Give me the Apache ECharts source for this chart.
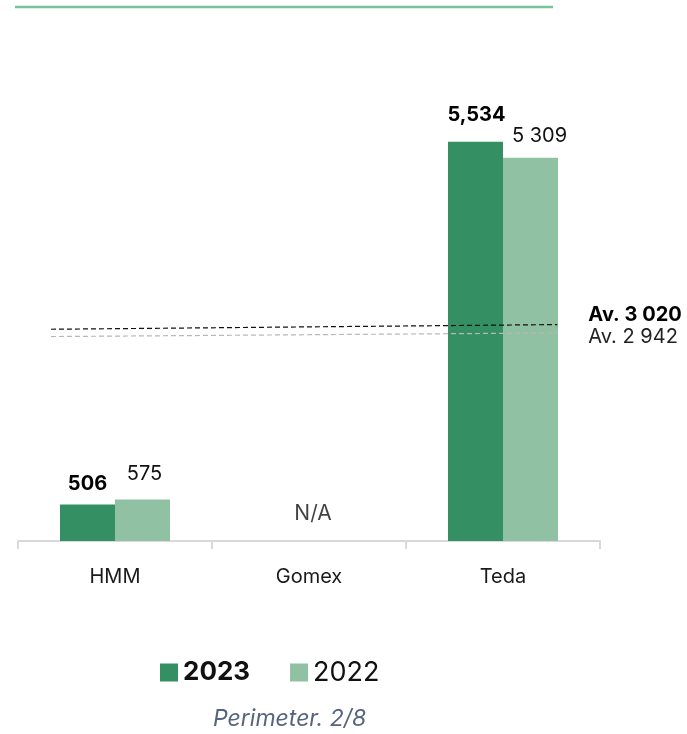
<!DOCTYPE html>
<html>
<head>
<meta charset="utf-8">
<script src="https://cdn.jsdelivr.net/npm/echarts@6/dist/echarts.min.js"></script>
<style>
html,body{margin:0;padding:0;background:#fff;}
#c{width:687px;height:734px;}
</style>
</head>
<body>
<div id="c"></div>
<script>
var categories = ['HMM', 'Gomex', 'Teda'];
var values2023 = [506, null, 5534];
var values2022 = [575, null, 5309];
var labels2023 = ['506', '', '5,534'];
var labels2022 = ['575', '', '5 309'];
var naCategory = 'Gomex';
var naLabel = 'N/A';
var naLevel = 380;
var avg2023 = 3020;
var avg2022 = 2942;
var avg2023Label = 'Av. 3 020';
var avg2022Label = 'Av. 2 942';
var avg2023Line = [[0.17, 2934], [2.78, 2999]];
var avg2022Line = [[0.17, 2833], [2.78, 2883]];
var seriesNames = ['2023', '2022'];
var footnote = 'Perimeter. 2/8';

var FONT = 'Inter, "Noto Sans", sans-serif';
var labelOffsets2023 = [[0, -5], [0, 0], [1, -12]];
var labelOffsets2022 = [[2, -11], [0, 0], [9, -7]];

function buildBar(vals, labels, offsets) {
  return vals.map(function (v, i) {
    return { value: v, label: { offset: offsets[i], formatter: labels[i] } };
  });
}

var chart = echarts.init(document.getElementById('c'));
chart.setOption({
  animation: false,
  backgroundColor: '#fff',
  graphic: [{
    type: 'line',
    shape: { x1: 15, y1: 7, x2: 553, y2: 7 },
    style: { stroke: '#77c49c', lineWidth: 2.5 }
  }],
  title: {
    text: footnote,
    left: 208, top: 703,
    textStyle: { fontFamily: FONT, fontSize: 23, fontStyle: 'italic', fontWeight: 'normal', color: '#56657e' }
  },
  legend: {
    data: seriesNames,
    left: 155, top: 654,
    icon: 'rect', itemWidth: 18, itemHeight: 18, itemGap: 40,
    formatter: function (n) { return n === '2023' ? '{b|' + n + '}' : '{n|' + n + '}'; },
    textStyle: {
      fontFamily: FONT, color: '#111',
      rich: {
        b: { fontFamily: FONT, fontSize: 26, fontWeight: 'bold', color: '#111' },
        n: { fontFamily: FONT, fontSize: 27, fontWeight: 'normal', color: '#111' }
      }
    }
  },
  grid: { left: 18, right: 87, top: 108, bottom: 193 },
  xAxis: [{
    type: 'category',
    data: categories,
    axisLine: { lineStyle: { color: '#d9d9d9', width: 2 } },
    axisTick: { show: true, length: 8, lineStyle: { color: '#d9d9d9', width: 2 } },
    axisLabel: { fontFamily: FONT, fontSize: 20, color: '#1a1a1a', margin: 26 }
  }, {
    type: 'value', min: 0, max: 3, show: false
  }],
  yAxis: { type: 'value', min: 0, max: 6000, show: false, splitLine: { show: false } },
  series: [{
    name: '2023', type: 'bar',
    data: buildBar(values2023, labels2023, labelOffsets2023),
    barWidth: 55, barGap: '0%',
    itemStyle: { color: '#348f62' },
    label: { show: true, position: 'top', fontFamily: FONT, fontSize: 20, fontWeight: 'bold', color: '#000' }
  }, {
    name: '2022', type: 'bar',
    data: buildBar(values2022, labels2022, labelOffsets2022),
    barWidth: 55, barGap: '0%',
    itemStyle: { color: '#8fc1a2' },
    label: { show: true, position: 'top', fontFamily: FONT, fontSize: 20, color: '#111' }
  }, {
    type: 'scatter', symbolSize: 0,
    data: [[naCategory, naLevel]],
    label: { show: true, position: 'inside', formatter: naLabel, fontFamily: FONT, fontSize: 21, color: '#111', offset: [4, 0] },
    silent: true
  }, {
    type: 'line', xAxisIndex: 1, symbol: 'none',
    data: avg2023Line,
    lineStyle: { color: '#111', width: 1.2, type: [5, 3] },
    endLabel: { show: true, formatter: avg2023Label, fontFamily: FONT, fontSize: 20, fontWeight: 'bold', color: '#000', distance: 0, offset: [31, -10] },
    silent: true
  }, {
    type: 'line', xAxisIndex: 1, symbol: 'none',
    data: avg2022Line,
    lineStyle: { color: '#b8b8b8', width: 1.2, type: [5, 3] },
    endLabel: { show: true, formatter: avg2022Label, fontFamily: FONT, fontSize: 20, color: '#222', distance: 0, offset: [31, 4.5] },
    silent: true
  }]
});
</script>
</body>
</html>
